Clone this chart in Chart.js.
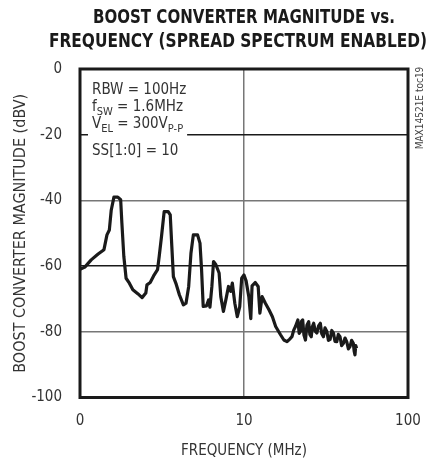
<!DOCTYPE html>
<html>
<head>
<meta charset="utf-8">
<script src="https://cdn.jsdelivr.net/npm/chart.js@4/dist/chart.umd.min.js"></script>
<style>
  html, body { margin: 0; padding: 0; background: #fff; }
  #wrap { width: 428px; height: 460px; }
</style>
</head>
<body>
<div id="wrap"><canvas id="chart" width="428" height="460"></canvas></div>
<script>
// Spectrum trace (frequency in MHz, magnitude in dBV)
const freqMHz = [
    1.0, 1.07, 1.17, 1.29, 1.40, 1.46, 1.51, 1.55, 1.61, 1.70,
    1.77, 1.80, 1.85, 1.91, 2.00, 2.10, 2.25, 2.39, 2.52, 2.56,
    2.68, 2.81, 2.97, 3.04, 3.14, 3.26, 3.45, 3.55, 3.63, 3.71,
    3.86, 4.04, 4.27, 4.43, 4.60, 4.75, 4.91, 5.21, 5.39, 5.51,
    5.64, 5.91, 6.08, 6.20, 6.37, 6.52, 6.74, 7.05, 7.22, 7.49,
    7.75, 8.04, 8.30, 8.49, 8.79, 9.10, 9.42, 9.68, 10.0, 10.3,
    10.7, 11.0, 11.2, 11.7, 12.2, 12.5, 12.9, 13.5, 14.2, 14.9,
    15.6, 16.7, 17.5, 18.3, 19.0, 19.6, 20.1, 20.6, 21.3, 21.7,
    22.1, 22.4, 22.8, 23.2, 23.7, 24.2, 24.8, 25.2, 25.7, 26.1,
    26.6, 27.2, 27.8, 28.5, 29.2, 29.8, 30.5, 31.2, 32.0, 32.7,
    33.5, 34.3, 35.1, 35.9, 36.8, 37.6, 38.5, 39.4, 40.4, 41.3,
    42.3, 43.3, 44.3, 45.3, 46.4, 47.0, 47.5, 48.0, 48.6
];
const magnitudeDbv = [
    -61, -60.3, -58.1, -56.3, -55.0, -50.5, -49, -43, -39, -39,
    -39.8, -46.8, -57, -63.7, -65.2, -67.2, -68.4, -69.6, -68.2, -65.7,
    -65, -63, -61.1, -57.1, -51, -43.4, -43.4, -44.4, -54, -63.2,
    -65.5, -68.8, -71.8, -71.3, -66.2, -56, -50.5, -50.5, -53, -61,
    -72.3, -72.1, -70.3, -72.5, -66.2, -58.6, -59.6, -62.1, -69.3, -73.8,
    -70.3, -66.2, -67.7, -65.2, -71.3, -75.4, -72.3, -63.7, -62.7, -64.5,
    -69.3, -76, -66, -65, -66.2, -74.3, -69.3, -71.3, -73.3, -75.4,
    -78.4, -80.9, -82.5, -83, -82.2, -81.5, -79.5, -78.4, -76.4, -80.5,
    -79.9, -76.8, -76.4, -81, -82.5, -78, -76.9, -80.8, -81.5, -78.5,
    -77.4, -79.8, -80.4, -78.2, -77.4, -80.6, -81.5, -78.8, -79.9, -82.6,
    -82.3, -79.6, -80.4, -82.9, -83, -80.8, -81.5, -84.2, -83.5, -81.9,
    -83, -85.2, -84.5, -82.6, -83.5, -86, -87, -84.2, -85
];

const xTicks = [1, 10, 100];
const xTickLabels = ['0', '10', '100'];
const yTicks = [0, -20, -40, -60, -80, -100];

const titleLines = ['BOOST CONVERTER MAGNITUDE vs.', 'FREQUENCY (SPREAD SPECTRUM ENABLED)'];
// each note line is a list of [text, isSubscript]
const noteLines = [
    [['RBW = 100Hz', false]],
    [['f', false], ['SW', true], [' = 1.6MHz', false]],
    [['V', false], ['EL', true], [' = 300V', false], ['P-P', true]],
    [['SS[1:0] = 10', false]]
];
const sideNote = 'MAX14521E toc19';

const FONT = "'Liberation Sans Narrow', 'DejaVu Sans Condensed', sans-serif";
const TEXT = '#333';
Chart.defaults.font.family = FONT;

const overlayPlugin = {
    id: 'overlay',
    afterDraw(chart) {
        const ctx = chart.ctx;
        const area = chart.chartArea;
        const cx = (area.left + area.right) / 2;

        // frame round the plot
        ctx.save();
        ctx.strokeStyle = '#1a1a1a';
        ctx.lineWidth = 3;
        ctx.strokeRect(area.left, area.top, area.right - area.left, area.bottom - area.top);
        ctx.restore();

        // title
        ctx.save();
        ctx.fillStyle = '#1a1a1a';
        ctx.textBaseline = 'alphabetic';
        ctx.font = 'bold 20px ' + FONT;
        const titleWidths = [302, 378];
        const titleBase = [23, 47];
        const titleCenter = [cx, cx - 6];
        titleLines.forEach((line, i) => {
            const w = ctx.measureText(line).width;
            const sx = titleWidths[i] / w;
            ctx.save();
            ctx.translate(titleCenter[i], titleBase[i]);
            ctx.scale(sx, 1);
            ctx.textAlign = 'center';
            ctx.fillText(line, 0, 0);
            ctx.restore();
        });
        ctx.restore();

        // notes inside the plot
        ctx.save();
        ctx.textAlign = 'left';
        ctx.textBaseline = 'alphabetic';
        const noteBase = [94, 111, 128, 155];
        noteLines.forEach((parts, i) => {
            let x = 92;
            let width = 0;
            parts.forEach(([txt, sub]) => {
                ctx.font = (sub ? '11px ' : '15px ') + FONT;
                width += ctx.measureText(txt).width;
            });
            ctx.fillStyle = '#fff';
            ctx.fillRect(x - 4, noteBase[i] - 13, width + 8, 22);
            ctx.fillStyle = TEXT;
            parts.forEach(([txt, sub]) => {
                ctx.font = (sub ? '11px ' : '15px ') + FONT;
                ctx.fillText(txt, x, noteBase[i] + (sub ? 4 : 0));
                x += ctx.measureText(txt).width;
            });
        });
        ctx.restore();

        // side note
        ctx.save();
        ctx.translate(420, 108);
        ctx.rotate(-Math.PI / 2);
        ctx.font = '10px ' + FONT;
        ctx.fillStyle = '#444';
        ctx.textAlign = 'center';
        ctx.textBaseline = 'middle';
        ctx.fillText(sideNote, 0, 0);
        ctx.restore();
    }
};

const chart = new Chart(document.getElementById('chart'), {
    type: 'line',
    data: {
        datasets: [{
            data: freqMHz.map((f, i) => ({ x: f, y: magnitudeDbv[i] })),
            borderColor: '#1a1a1a',
            borderWidth: 3.2,
            pointRadius: 0,
            tension: 0,
            borderJoinStyle: 'round',
            fill: false
        }]
    },
    options: {
        responsive: false,
        animation: false,
        devicePixelRatio: 1,
        layout: {
            padding: { top: 69, right: 20, left: 0, bottom: 0 }
        },
        plugins: {
            legend: { display: false },
            tooltip: { enabled: false },
            title: { display: false }
        },
        scales: {
            x: {
                type: 'logarithmic',
                min: 1,
                max: 100,
                afterBuildTicks: (scale) => {
                    scale.ticks = xTicks.map(v => ({ value: v }));
                },
                afterFit: (scale) => {
                    scale.height = 62.5;
                    scale.paddingLeft = 0;
                    scale.paddingRight = 0;
                },
                ticks: {
                    autoSkip: false,
                    maxRotation: 0,
                    padding: 15,
                    color: TEXT,
                    font: { size: 15 },
                    callback: (value, index) => xTickLabels[index]
                },
                grid: { color: '#777', lineWidth: 1.5, drawTicks: false },
                border: { display: false },
                title: {
                    display: true,
                    text: 'FREQUENCY (MHz)',
                    color: TEXT,
                    font: { size: 15 },
                    padding: { top: 2, bottom: 0 }
                }
            },
            y: {
                min: -100,
                max: 0,
                afterBuildTicks: (scale) => {
                    scale.ticks = yTicks.map(v => ({ value: v }));
                },
                afterFit: (scale) => {
                    scale.width = 80;
                    scale.paddingTop = 0;
                    scale.paddingBottom = 0;
                },
                ticks: {
                    padding: 18,
                    color: TEXT,
                    font: { size: 15 },
                    callback: (value) => String(value)
                },
                grid: {
                    drawTicks: false,
                    lineWidth: 1.5,
                    color: (c) => (c.tick && (c.tick.value === -20 || c.tick.value === -60)) ? '#1a1a1a' : '#777'
                },
                border: { display: false },
                title: {
                    display: true,
                    text: 'BOOST CONVERTER MAGNITUDE (dBV)',
                    color: TEXT,
                    font: { size: 16 },
                    padding: { top: 11, bottom: 0 }
                }
            }
        }
    },
    plugins: [overlayPlugin]
});
</script>
</body>
</html>
